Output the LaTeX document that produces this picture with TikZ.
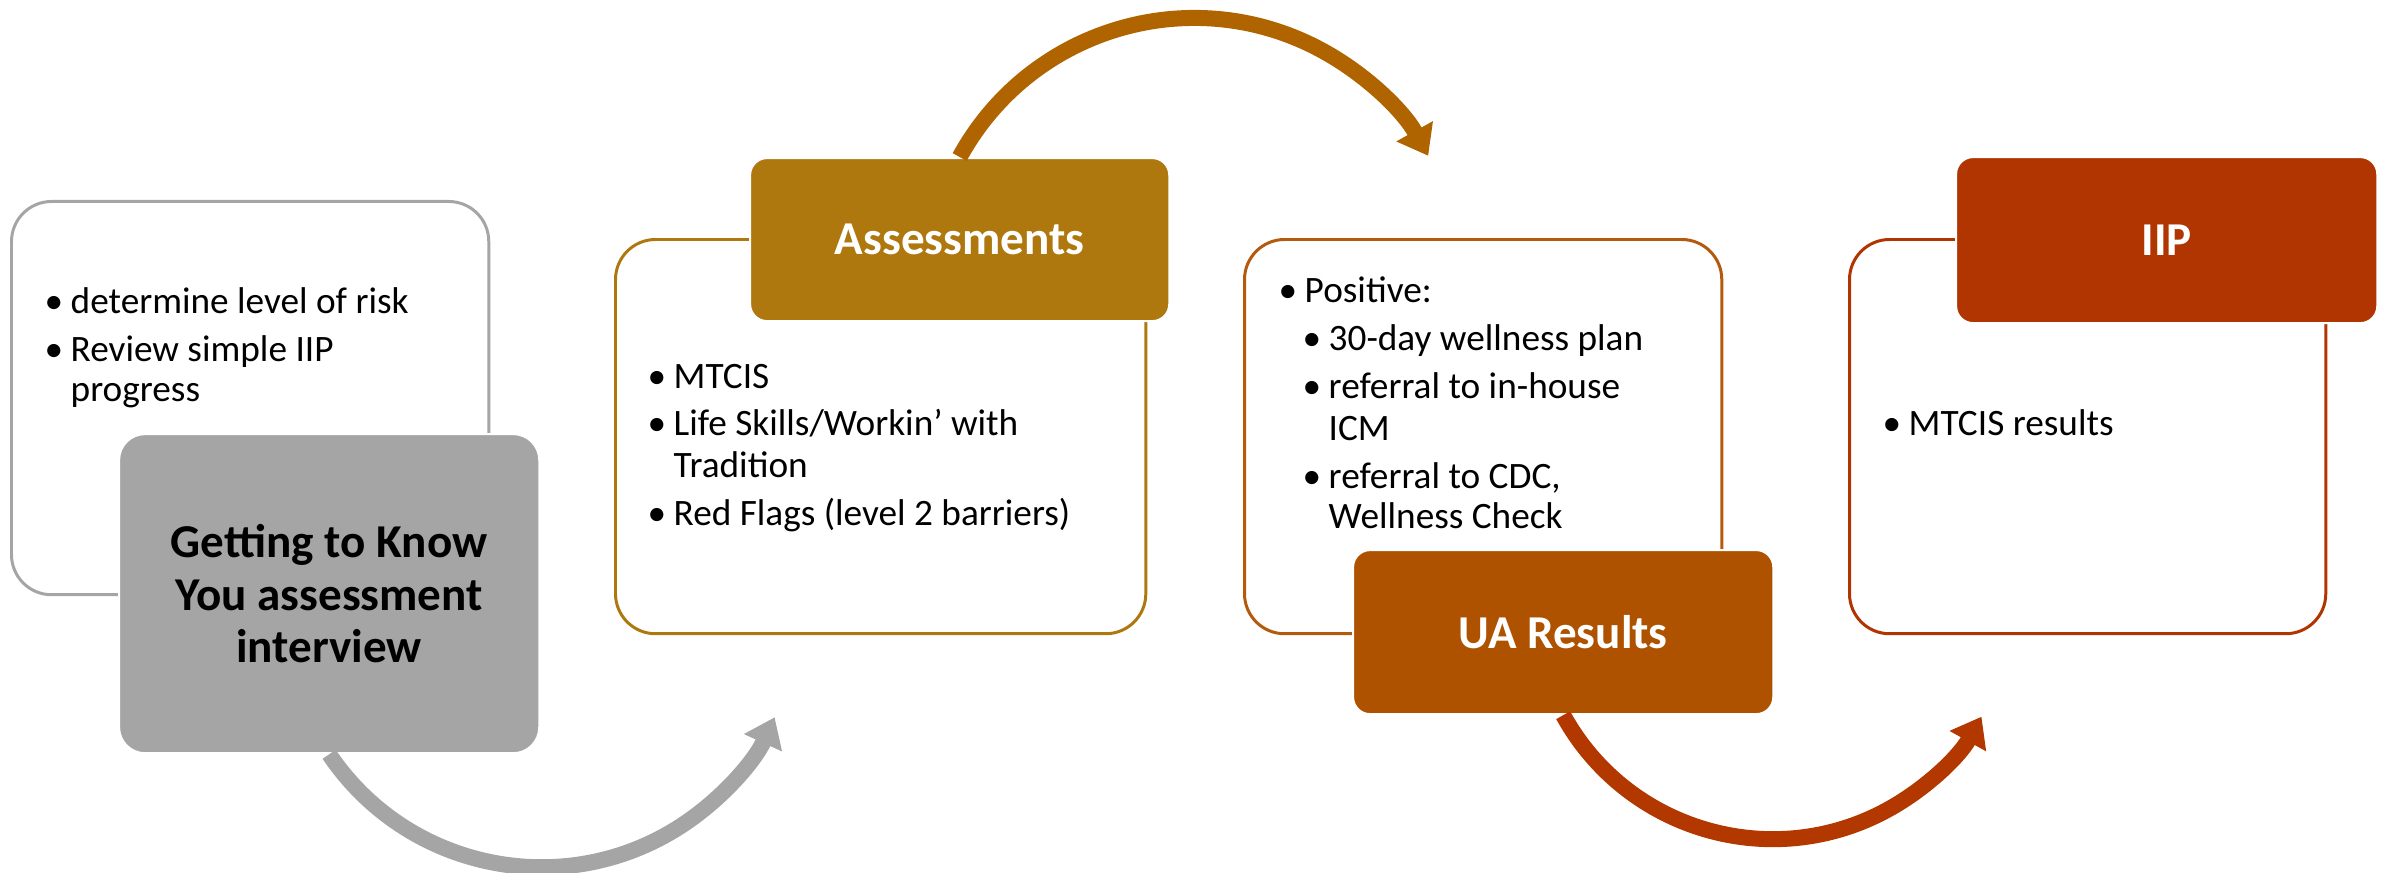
\documentclass[tikz,border=0pt]{standalone}
\usepackage{fontspec}
\setmainfont{Carlito}
\usetikzlibrary{arrows.meta}
\definecolor{cgray}{HTML}{A5A5A5}
\definecolor{cgold}{HTML}{AE780F}
\definecolor{carcone}{HTML}{B06400}
\definecolor{cbrown}{HTML}{B35A0E}
\definecolor{cua}{HTML}{AF5200}
\definecolor{carctwo}{HTML}{B23800}
\definecolor{cred}{HTML}{B13500}
\newcommand{\bu}{\llap{\textbullet\hspace{0.075cm}}}
\begin{document}
\begin{tikzpicture}[x=0.01cm,y=-0.01cm,
  outline/.style={draw, line width=0.85pt, fill=white, rounded corners=0.4cm, inner sep=0, anchor=north west},
  filledbox/.style={draw=white, line width=0.6pt, rounded corners=0.17cm, inner sep=0, anchor=north west, align=center, text=white, font=\fontsize{13.4}{15}\selectfont\bfseries},
  bul/.style={anchor=base west, inner sep=0, font=\fontsize{10.6}{12}\selectfont},
  arrowline/.style={line width=0.16cm, -{Triangle[length=0.28cm,width=0.40cm]}}
]
\useasboundingbox (0,0) rectangle (2388,873);

% outline boxes
\node (b1) [outline, draw=cgray, minimum width=4.77cm, minimum height=3.93cm] at (10,200) {};
\node (b2) [outline, draw=cgold, minimum width=5.30cm, minimum height=3.94cm] at (614,238) {};
\node (b3) [outline, draw=cbrown, minimum width=4.77cm, minimum height=3.94cm] at (1243,238) {};
\node (b4) [outline, draw=cred, minimum width=4.76cm, minimum height=3.94cm] at (1848,238) {};

% filled boxes
\node (gk) [filledbox, fill=cgray, text=black, rounded corners=0.26cm, minimum width=4.20cm, minimum height=3.19cm] at (118,433) {Getting to Know\\You assessment\\interview};
\node (asm) [filledbox, fill=cgold, minimum width=4.19cm, minimum height=1.63cm] at (749,157) {Assessments};
\node (ua) [filledbox, fill=cua, minimum width=4.20cm, minimum height=1.64cm] at (1352,549) {UA Results};
\node (iip) [filledbox, fill=cred, minimum width=4.21cm, minimum height=1.66cm] at (1955,156) {IIP};

% bullet texts
\node (t11) [bul] at (70,313) {\bu determine level of risk};
\node (t12) [bul] at (70,361) {\bu Review simple IIP};
\node (t13) [bul] at (70,401) {progress};

\node (t21) [bul] at (673,388) {\bu MTCIS};
\node (t22) [bul] at (673,435) {\bu Life Skills/Workin’ with};
\node (t23) [bul] at (673,477) {Tradition};
\node (t24) [bul] at (673,525) {\bu Red Flags (level 2 barriers)};

\node (t31) [bul] at (1304,302) {\bu Positive:};
\node (t32) [bul] at (1328,350) {\bu 30-day wellness plan};
\node (t33) [bul] at (1328,398) {\bu referral to in-house};
\node (t34) [bul] at (1328,440) {ICM};
\node (t35) [bul] at (1328,488) {\bu referral to CDC,};
\node (t36) [bul] at (1328,528) {Wellness Check};

\node (t41) [bul] at (1908,435) {\bu MTCIS results};

% circular arrows
\draw[arrowline, cgray] (gk.south) arc[start angle=-146, end angle=-24.5, radius=2.56cm];
\draw[arrowline, carcone] (asm.north) arc[start angle=151.3, end angle=29, radius=2.673cm];
\draw[arrowline, carctwo] (ua.south) arc[start angle=-151.2, end angle=-29.2, radius=2.39cm];
\end{tikzpicture}
\end{document}
